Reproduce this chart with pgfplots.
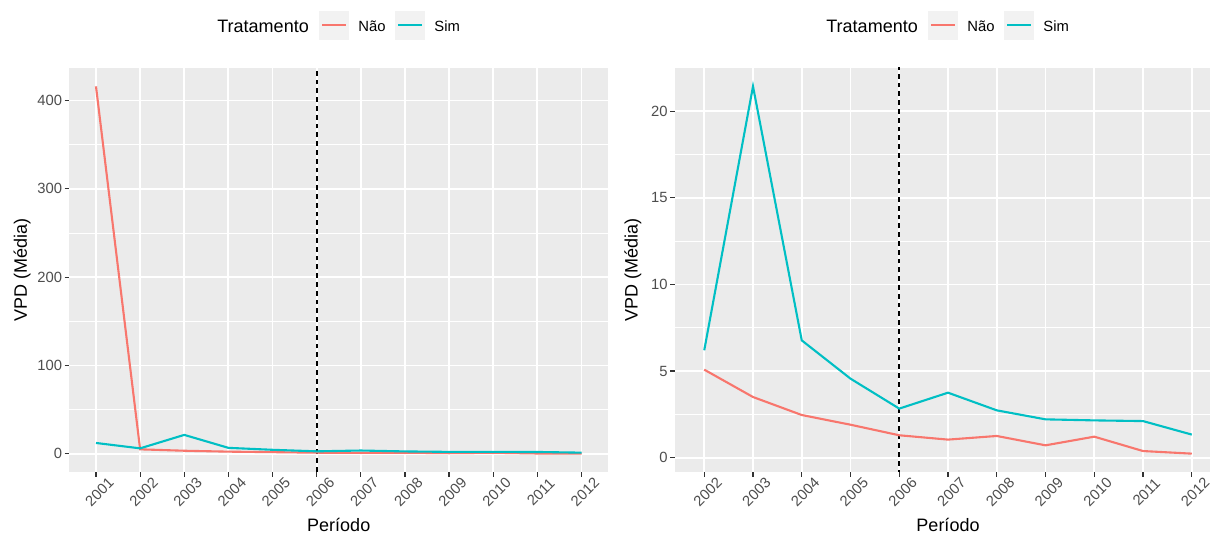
\documentclass[border=0pt]{standalone}
\usepackage{pgfplots}
\pgfplotsset{compat=1.18}
\usepackage{fontspec}
\setmainfont{Liberation Sans}
\definecolor{nao}{HTML}{F8766D}
\definecolor{sim}{HTML}{00BFC4}
\definecolor{ggbg}{HTML}{EBEBEB}
\definecolor{keybg}{HTML}{F2F2F2}
\definecolor{ticktxt}{HTML}{4D4D4D}
\definecolor{tickcol}{HTML}{333333}
\pgfplotsset{
  ggstyle/.style={
    scale only axis,
    anchor=south west,
    axis background/.style={fill=ggbg},
    axis line style={draw=none},
    tick pos=left,
    tick align=outside,
    major tick length=2.5pt,
    minor tick length=0pt,
    every tick/.style={tickcol, line width=0.6pt},
    xmajorgrids, ymajorgrids, yminorgrids,
    major grid style={white, line width=0.9pt},
    minor grid style={white, line width=0.45pt},
    /pgf/number format/assume math mode=true,
    /pgf/number format/1000 sep={},
    tick label style={font=\fontsize{7.4}{8}\selectfont, text=ticktxt},
    xticklabel style={xshift=-2.6pt, yshift=-3.2pt, rotate=45, anchor=north},
    yticklabel style={xshift=2.3pt},
    label style={font=\fontsize{9}{10}\selectfont},
    xtick={2001,...,2012},
    xlabel={Período},
    ylabel={VPD (Média)},
    clip=true,
  }
}
\begin{document}
\begin{tikzpicture}
% Left panel
\begin{axis}[ggstyle,
  at={(34.75pt,30.5pt)}, width=269.25pt, height=202pt,
  xmin=2000.4, xmax=2012.6, ymin=-20.56, ymax=436.8,
  ytick={0,100,200,300,400}, minor ytick={50,150,250,350},
  xlabel style={at={(axis description cs:0.5,-0.131)}, anchor=center},
  ylabel style={at={(axis description cs:-0.088,0.5)}, anchor=center},
]
\addplot[black, line width=0.9pt, dash pattern=on 2.4pt off 2pt] coordinates {(2006,-30) (2006,450)};
\addplot[nao, line width=1.05pt] coordinates {
(2001,416) (2002,5.08) (2003,3.50) (2004,2.46) (2005,1.90) (2006,1.29)
(2007,1.04) (2008,1.25) (2009,0.71) (2010,1.21) (2011,0.38) (2012,0.23)};
\addplot[sim, line width=1.05pt] coordinates {
(2001,12.3) (2002,6.20) (2003,21.44) (2004,6.77) (2005,4.56) (2006,2.83)
(2007,3.75) (2008,2.73) (2009,2.21) (2010,2.15) (2011,2.11) (2012,1.33)};
\end{axis}
% Right panel
\begin{axis}[ggstyle,
  at={(337.5pt,30.5pt)}, width=273pt, height=202pt,
  xmin=2001.4, xmax=2012.6, ymin=-0.83, ymax=22.5,
  xtick={2002,...,2012},
  ytick={0,5,10,15,20}, minor ytick={2.5,7.5,12.5,17.5},
  xlabel style={at={(axis description cs:0.5,-0.131)}, anchor=center},
  ylabel style={at={(axis description cs:-0.077,0.5)}, anchor=center},
]
\addplot[black, line width=0.9pt, dash pattern=on 2.4pt off 2pt] coordinates {(2006,-2) (2006,25)};
\addplot[nao, line width=1.05pt] coordinates {
(2002,5.08) (2003,3.50) (2004,2.46) (2005,1.90) (2006,1.29)
(2007,1.04) (2008,1.25) (2009,0.71) (2010,1.21) (2011,0.38) (2012,0.23)};
\addplot[sim, line width=1.05pt] coordinates {
(2002,6.20) (2003,21.44) (2004,6.77) (2005,4.56) (2006,2.83)
(2007,3.75) (2008,2.73) (2009,2.21) (2010,2.15) (2011,2.11) (2012,1.33)};
\end{axis}
% Legends
\foreach \dx in {0pt,304.5pt}{
  \begin{scope}[xshift=\dx]
  \node[anchor=base west, inner sep=0pt, font=\fontsize{9}{10}\selectfont] at (108.5pt,250pt) {Tratamento};
  \fill[keybg] (159.5pt,246.5pt) rectangle (174.5pt,261pt);
  \draw[nao, line width=1.05pt] (161pt,254pt) -- (173pt,254pt);
  \node[anchor=base west, inner sep=0pt, font=\fontsize{7.4}{8}\selectfont] at (179pt,250.5pt) {Não};
  \fill[keybg] (197.5pt,246.5pt) rectangle (212.5pt,261pt);
  \draw[sim, line width=1.05pt] (199pt,254pt) -- (211pt,254pt);
  \node[anchor=base west, inner sep=0pt, font=\fontsize{7.4}{8}\selectfont] at (217pt,250.5pt) {Sim};
  \end{scope}
}
\pgfresetboundingbox
\useasboundingbox (0,0) rectangle (605pt,266.5pt);
\end{tikzpicture}
\end{document}
